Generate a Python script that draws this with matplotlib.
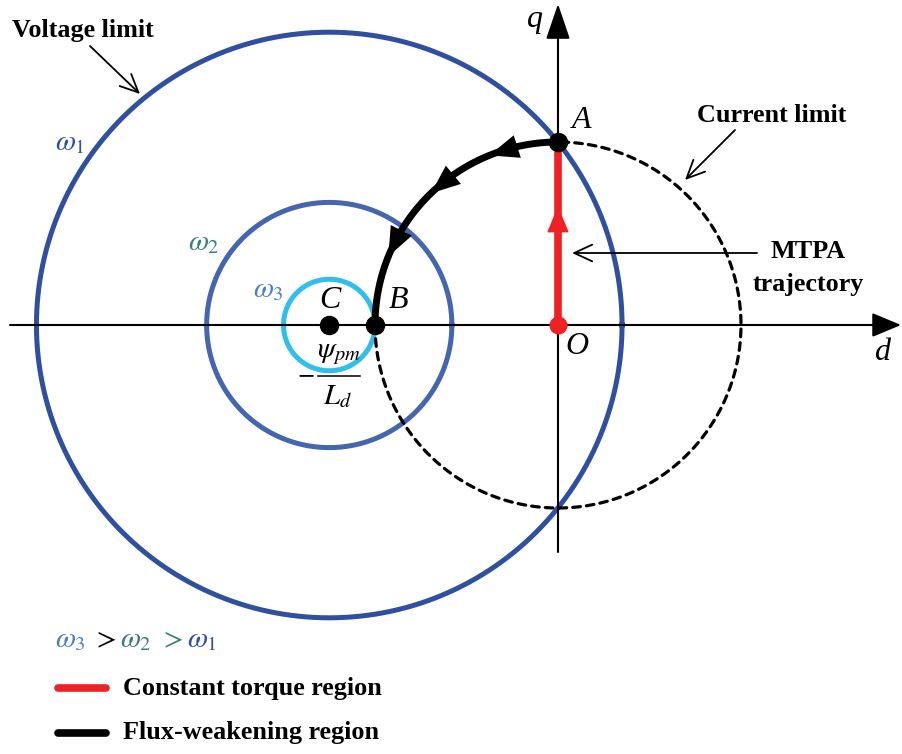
import matplotlib
matplotlib.use('Agg')
import matplotlib.pyplot as plt
import numpy as np

plt.rcParams['mathtext.fontset'] = 'stix'
plt.rcParams['font.family'] = ['Liberation Serif', 'DejaVu Serif']

# d-q plane, currents normalised to the current limit
i_max = 1.0
psi_over_ld = 1.25                    # centre C of the voltage-limit circles is at -psi_pm/L_d
omega_names = ['1', '2', '3']
omega_radii = [1.60, 0.67, 0.25]      # voltage-limit radius for omega_1, omega_2, omega_3
omega_colors = ['#2F4FA0', '#4466B0', '#30BEEC']
omega_label_colors = ['#3050A0', '#3B7D78', '#4A80C2']
fw_arrow_angles = [109, 131, 155]     # arrow marks along the flux-weakening arc (deg)

# pixel layout helper: origin O sits at (558, 325), 183 px per unit
S = 183.0
OX, OY = 558.0, 325.0
def px(x, y):
    return ((x - OX) / S, (OY - y) / S)

fig = plt.figure(figsize=(9.02, 7.54), dpi=100)
ax = fig.add_axes([0, 0, 1, 1])
x0, y0 = px(0, 754)
x1, y1 = px(902, 0)
ax.set_xlim(x0, x1)
ax.set_ylim(y0, y1)
ax.set_aspect('equal')
ax.axis('off')

t = np.linspace(0, 2 * np.pi, 721)
cx = -psi_over_ld

# voltage limit circles
for r, c in zip(omega_radii, omega_colors):
    ax.plot(cx + r * np.cos(t), r * np.sin(t), color=c, lw=3.6, zorder=2)

# current limit circle, dashed part (A clockwise round to B)
th = np.radians(np.linspace(-180, 90, 400))
ax.plot(i_max * np.cos(th), i_max * np.sin(th), color='k', lw=2.3,
        dashes=(2.4, 1.9), dash_capstyle='round', zorder=3)

# axes
ax.annotate('', xy=px(901, 325), xytext=px(10, 325),
            arrowprops=dict(arrowstyle='-|>,head_length=1.8,head_width=0.75',
                            mutation_scale=10, lw=1.5, color='k',
                            shrinkA=0, shrinkB=0), zorder=4)
ax.annotate('', xy=px(558, 4), xytext=px(558, 552),
            arrowprops=dict(arrowstyle='-|>,head_length=2.2,head_width=0.75',
                            mutation_scale=10, lw=1.5, color='k',
                            shrinkA=0, shrinkB=0), zorder=4)

# constant torque region (MTPA, O -> A)
ax.plot([0, 0], [0, i_max], color='#EE2224', lw=5.5, solid_capstyle='butt', zorder=5)
ax.annotate('', xy=px(558, 206), xytext=px(558, 240),
            arrowprops=dict(arrowstyle='-|>,head_length=1.9,head_width=0.78',
                            mutation_scale=10, lw=0, color='#EE2224',
                            shrinkA=0, shrinkB=0), zorder=5)

# flux-weakening region (A -> B along current limit)
th = np.radians(np.linspace(90, 180, 200))
ax.plot(i_max * np.cos(th), i_max * np.sin(th), color='k', lw=5, zorder=5)
for a in fw_arrow_angles:
    p1 = (i_max * np.cos(np.radians(a - 6)), i_max * np.sin(np.radians(a - 6)))
    p2 = (i_max * np.cos(np.radians(a + 3)), i_max * np.sin(np.radians(a + 3)))
    ax.annotate('', xy=p2, xytext=p1,
                arrowprops=dict(arrowstyle='-|>,head_length=2.1,head_width=0.85',
                                mutation_scale=10, lw=0, color='k',
                                shrinkA=0, shrinkB=0), zorder=6)

# points
ax.plot([cx, -i_max, 0], [0, 0, i_max], 'o', color='k', ms=13, zorder=7)
ax.plot([0], [0], 'o', color='#EE2224', ms=12, zorder=7)

# point and axis letters
let = dict(fontsize=23, style='italic', ha='center', va='center', zorder=8)
ax.text(*px(582, 121), 'A', **let)
ax.text(*px(398, 301), 'B', **let)
ax.text(*px(330, 300), 'C', **let)
ax.text(*px(577, 346), 'O', **let)
ax.text(*px(535, 20), 'q', **let)
ax.text(*px(882, 352), 'd', **let)

# -psi_pm / L_d under C
ax.text(*px(306, 374), r'$-$', fontsize=18, ha='center', va='center', zorder=8)
ax.text(*px(339, 354), r'$\psi_{pm}$', fontsize=21, ha='center', va='center', zorder=8)
ax.plot(*zip(px(318, 376), px(360, 376)), color='k', lw=1.1, zorder=8)
ax.text(*px(338, 397), r'$L_d$', fontsize=21, ha='center', va='center', zorder=8)

# omega labels
wpos = [(70, 143), (204, 243), (268, 290)]
for n, (x, y), c in zip(omega_names, wpos, omega_label_colors):
    ax.text(*px(x, y), r'$\omega_{%s}$' % n, fontsize=21, color=c, ha='center', va='center')

# annotations with pointers
bold = dict(fontsize=18.8, fontweight='bold', va='center')
ax.text(*px(12, 30), 'Voltage limit', ha='left', **bold)
ax.annotate('', xy=px(140, 94), xytext=px(90, 46),
            arrowprops=dict(arrowstyle='->,head_length=1.3,head_width=0.6',
                            mutation_scale=10, lw=1.3, color='k', shrinkA=0, shrinkB=0))
ax.text(*px(697, 115), 'Current limit', ha='left', **bold)
ax.annotate('', xy=px(685, 180), xytext=px(735, 130),
            arrowprops=dict(arrowstyle='->,head_length=1.3,head_width=0.6',
                            mutation_scale=10, lw=1.3, color='k', shrinkA=0, shrinkB=0))
ax.text(*px(808, 252), 'MTPA', ha='center', **bold)
ax.text(*px(808, 284), 'trajectory', ha='center', **bold)
ax.annotate('', xy=px(572, 253), xytext=px(757, 253),
            arrowprops=dict(arrowstyle='->,head_length=1.3,head_width=0.6',
                            mutation_scale=10, lw=1.3, color='k', shrinkA=0, shrinkB=0))

# speed ordering
ax.text(*px(70, 640), r'$\omega_3$', fontsize=21, color=omega_label_colors[2], ha='center', va='center')
ax.text(*px(104, 640), r'$>$', fontsize=21, color='k', ha='center', va='center')
ax.text(*px(136, 640), r'$\omega_2$', fontsize=21, color=omega_label_colors[1], ha='center', va='center')
ax.text(*px(171, 640), r'$>$', fontsize=21, color=omega_label_colors[1], ha='center', va='center')
ax.text(*px(202, 640), r'$\omega_1$', fontsize=21, color=omega_label_colors[0], ha='center', va='center')

# legend
ax.plot(*zip(px(58, 688), px(106, 688)), color='#EE2224', lw=5.5, solid_capstyle='round')
ax.plot(*zip(px(58, 733), px(106, 733)), color='k', lw=5.5, solid_capstyle='round')
ax.text(*px(123, 688), 'Constant torque region', ha='left', **bold)
ax.text(*px(123, 733), 'Flux-weakening region', ha='left', **bold)

fig.savefig('out.png', dpi=100)
